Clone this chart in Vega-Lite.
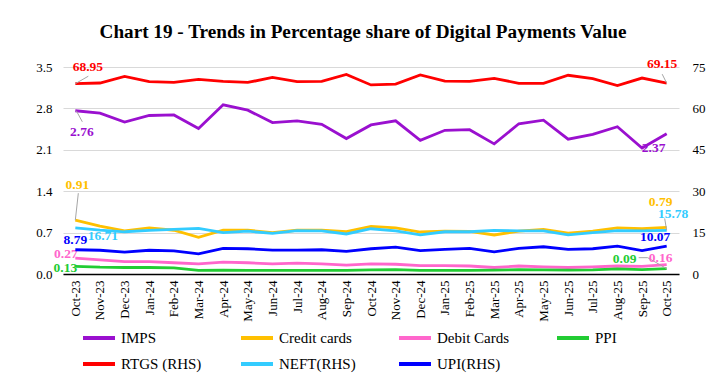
{
  "$schema": "https://vega.github.io/schema/vega-lite/v6.json",
  "width": 616,
  "height": 207,
  "autosize": "none",
  "padding": {"left": 63, "top": 67, "right": 45, "bottom": 101},
  "background": "white",
  "title": {"text": "Chart 19 - Trends in Percentage share of Digital Payments Value", "font": "Liberation Serif", "fontSize": 19.2, "fontWeight": "bold", "color": "black", "anchor": "middle", "offset": 15, "dx": -8},
  "config": {
    "view": {"stroke": null},
    "font": "Liberation Serif",
    "axis": {"labelFont": "Liberation Serif", "labelFontSize": 13, "labelColor": "black", "title": null, "ticks": false},
    "text": {"font": "Liberation Serif", "fontWeight": "bold", "fontSize": 13.5, "baseline": "middle", "align": "center"},
    "rule": {"color": "#a6a6a6", "strokeWidth": 1}
  },
  "datasets": {
    "pay": [
      {"m":"Oct-23","s":"IMPS","v":2.76},{"m":"Nov-23","s":"IMPS","v":2.72},{"m":"Dec-23","s":"IMPS","v":2.57},{"m":"Jan-24","s":"IMPS","v":2.68},{"m":"Feb-24","s":"IMPS","v":2.69},{"m":"Mar-24","s":"IMPS","v":2.46},{"m":"Apr-24","s":"IMPS","v":2.86},{"m":"May-24","s":"IMPS","v":2.77},{"m":"Jun-24","s":"IMPS","v":2.56},{"m":"Jul-24","s":"IMPS","v":2.59},{"m":"Aug-24","s":"IMPS","v":2.53},{"m":"Sep-24","s":"IMPS","v":2.29},{"m":"Oct-24","s":"IMPS","v":2.52},{"m":"Nov-24","s":"IMPS","v":2.59},{"m":"Dec-24","s":"IMPS","v":2.26},{"m":"Jan-25","s":"IMPS","v":2.43},{"m":"Feb-25","s":"IMPS","v":2.44},{"m":"Mar-25","s":"IMPS","v":2.20},{"m":"Apr-25","s":"IMPS","v":2.54},{"m":"May-25","s":"IMPS","v":2.60},{"m":"Jun-25","s":"IMPS","v":2.28},{"m":"Jul-25","s":"IMPS","v":2.36},{"m":"Aug-25","s":"IMPS","v":2.49},{"m":"Sep-25","s":"IMPS","v":2.13},{"m":"Oct-25","s":"IMPS","v":2.37},
      {"m":"Oct-23","s":"Credit cards","v":0.91},{"m":"Nov-23","s":"Credit cards","v":0.81},{"m":"Dec-23","s":"Credit cards","v":0.73},{"m":"Jan-24","s":"Credit cards","v":0.78},{"m":"Feb-24","s":"Credit cards","v":0.74},{"m":"Mar-24","s":"Credit cards","v":0.62},{"m":"Apr-24","s":"Credit cards","v":0.74},{"m":"May-24","s":"Credit cards","v":0.74},{"m":"Jun-24","s":"Credit cards","v":0.70},{"m":"Jul-24","s":"Credit cards","v":0.74},{"m":"Aug-24","s":"Credit cards","v":0.74},{"m":"Sep-24","s":"Credit cards","v":0.715},{"m":"Oct-24","s":"Credit cards","v":0.805},{"m":"Nov-24","s":"Credit cards","v":0.78},{"m":"Dec-24","s":"Credit cards","v":0.71},{"m":"Jan-25","s":"Credit cards","v":0.725},{"m":"Feb-25","s":"Credit cards","v":0.72},{"m":"Mar-25","s":"Credit cards","v":0.66},{"m":"Apr-25","s":"Credit cards","v":0.725},{"m":"May-25","s":"Credit cards","v":0.755},{"m":"Jun-25","s":"Credit cards","v":0.69},{"m":"Jul-25","s":"Credit cards","v":0.725},{"m":"Aug-25","s":"Credit cards","v":0.78},{"m":"Sep-25","s":"Credit cards","v":0.765},{"m":"Oct-25","s":"Credit cards","v":0.79},
      {"m":"Oct-23","s":"Debit Cards","v":0.27},{"m":"Nov-23","s":"Debit Cards","v":0.24},{"m":"Dec-23","s":"Debit Cards","v":0.21},{"m":"Jan-24","s":"Debit Cards","v":0.21},{"m":"Feb-24","s":"Debit Cards","v":0.19},{"m":"Mar-24","s":"Debit Cards","v":0.17},{"m":"Apr-24","s":"Debit Cards","v":0.20},{"m":"May-24","s":"Debit Cards","v":0.19},{"m":"Jun-24","s":"Debit Cards","v":0.17},{"m":"Jul-24","s":"Debit Cards","v":0.185},{"m":"Aug-24","s":"Debit Cards","v":0.17},{"m":"Sep-24","s":"Debit Cards","v":0.15},{"m":"Oct-24","s":"Debit Cards","v":0.17},{"m":"Nov-24","s":"Debit Cards","v":0.165},{"m":"Dec-24","s":"Debit Cards","v":0.14},{"m":"Jan-25","s":"Debit Cards","v":0.14},{"m":"Feb-25","s":"Debit Cards","v":0.135},{"m":"Mar-25","s":"Debit Cards","v":0.11},{"m":"Apr-25","s":"Debit Cards","v":0.135},{"m":"May-25","s":"Debit Cards","v":0.12},{"m":"Jun-25","s":"Debit Cards","v":0.11},{"m":"Jul-25","s":"Debit Cards","v":0.12},{"m":"Aug-25","s":"Debit Cards","v":0.135},{"m":"Sep-25","s":"Debit Cards","v":0.13},{"m":"Oct-25","s":"Debit Cards","v":0.16},
      {"m":"Oct-23","s":"PPI","v":0.13},{"m":"Nov-23","s":"PPI","v":0.115},{"m":"Dec-23","s":"PPI","v":0.11},{"m":"Jan-24","s":"PPI","v":0.11},{"m":"Feb-24","s":"PPI","v":0.105},{"m":"Mar-24","s":"PPI","v":0.06},{"m":"Apr-24","s":"PPI","v":0.065},{"m":"May-24","s":"PPI","v":0.06},{"m":"Jun-24","s":"PPI","v":0.06},{"m":"Jul-24","s":"PPI","v":0.06},{"m":"Aug-24","s":"PPI","v":0.06},{"m":"Sep-24","s":"PPI","v":0.06},{"m":"Oct-24","s":"PPI","v":0.07},{"m":"Nov-24","s":"PPI","v":0.075},{"m":"Dec-24","s":"PPI","v":0.06},{"m":"Jan-25","s":"PPI","v":0.06},{"m":"Feb-25","s":"PPI","v":0.06},{"m":"Mar-25","s":"PPI","v":0.065},{"m":"Apr-25","s":"PPI","v":0.075},{"m":"May-25","s":"PPI","v":0.07},{"m":"Jun-25","s":"PPI","v":0.065},{"m":"Jul-25","s":"PPI","v":0.07},{"m":"Aug-25","s":"PPI","v":0.085},{"m":"Sep-25","s":"PPI","v":0.075},{"m":"Oct-25","s":"PPI","v":0.09},
      {"m":"Oct-23","s":"RTGS (RHS)","v":68.95},{"m":"Nov-23","s":"RTGS (RHS)","v":69.2},{"m":"Dec-23","s":"RTGS (RHS)","v":71.6},{"m":"Jan-24","s":"RTGS (RHS)","v":69.7},{"m":"Feb-24","s":"RTGS (RHS)","v":69.4},{"m":"Mar-24","s":"RTGS (RHS)","v":70.5},{"m":"Apr-24","s":"RTGS (RHS)","v":69.8},{"m":"May-24","s":"RTGS (RHS)","v":69.4},{"m":"Jun-24","s":"RTGS (RHS)","v":71.2},{"m":"Jul-24","s":"RTGS (RHS)","v":69.7},{"m":"Aug-24","s":"RTGS (RHS)","v":69.8},{"m":"Sep-24","s":"RTGS (RHS)","v":72.3},{"m":"Oct-24","s":"RTGS (RHS)","v":68.5},{"m":"Nov-24","s":"RTGS (RHS)","v":68.8},{"m":"Dec-24","s":"RTGS (RHS)","v":72.1},{"m":"Jan-25","s":"RTGS (RHS)","v":69.9},{"m":"Feb-25","s":"RTGS (RHS)","v":69.8},{"m":"Mar-25","s":"RTGS (RHS)","v":70.9},{"m":"Apr-25","s":"RTGS (RHS)","v":69.1},{"m":"May-25","s":"RTGS (RHS)","v":69.1},{"m":"Jun-25","s":"RTGS (RHS)","v":72.0},{"m":"Jul-25","s":"RTGS (RHS)","v":70.8},{"m":"Aug-25","s":"RTGS (RHS)","v":68.3},{"m":"Sep-25","s":"RTGS (RHS)","v":71.0},{"m":"Oct-25","s":"RTGS (RHS)","v":69.15},
      {"m":"Oct-23","s":"NEFT(RHS)","v":16.71},{"m":"Nov-23","s":"NEFT(RHS)","v":15.9},{"m":"Dec-23","s":"NEFT(RHS)","v":15.3},{"m":"Jan-24","s":"NEFT(RHS)","v":15.8},{"m":"Feb-24","s":"NEFT(RHS)","v":16.2},{"m":"Mar-24","s":"NEFT(RHS)","v":16.5},{"m":"Apr-24","s":"NEFT(RHS)","v":15.0},{"m":"May-24","s":"NEFT(RHS)","v":15.5},{"m":"Jun-24","s":"NEFT(RHS)","v":14.7},{"m":"Jul-24","s":"NEFT(RHS)","v":15.7},{"m":"Aug-24","s":"NEFT(RHS)","v":15.6},{"m":"Sep-24","s":"NEFT(RHS)","v":14.5},{"m":"Oct-24","s":"NEFT(RHS)","v":16.4},{"m":"Nov-24","s":"NEFT(RHS)","v":15.6},{"m":"Dec-24","s":"NEFT(RHS)","v":14.2},{"m":"Jan-25","s":"NEFT(RHS)","v":15.3},{"m":"Feb-25","s":"NEFT(RHS)","v":15.3},{"m":"Mar-25","s":"NEFT(RHS)","v":15.8},{"m":"Apr-25","s":"NEFT(RHS)","v":15.6},{"m":"May-25","s":"NEFT(RHS)","v":15.6},{"m":"Jun-25","s":"NEFT(RHS)","v":14.2},{"m":"Jul-25","s":"NEFT(RHS)","v":15.0},{"m":"Aug-25","s":"NEFT(RHS)","v":15.7},{"m":"Sep-25","s":"NEFT(RHS)","v":15.6},{"m":"Oct-25","s":"NEFT(RHS)","v":15.78},
      {"m":"Oct-23","s":"UPI(RHS)","v":8.79},{"m":"Nov-23","s":"UPI(RHS)","v":8.6},{"m":"Dec-23","s":"UPI(RHS)","v":7.9},{"m":"Jan-24","s":"UPI(RHS)","v":8.6},{"m":"Feb-24","s":"UPI(RHS)","v":8.4},{"m":"Mar-24","s":"UPI(RHS)","v":7.3},{"m":"Apr-24","s":"UPI(RHS)","v":9.3},{"m":"May-24","s":"UPI(RHS)","v":9.15},{"m":"Jun-24","s":"UPI(RHS)","v":8.66},{"m":"Jul-24","s":"UPI(RHS)","v":8.66},{"m":"Aug-24","s":"UPI(RHS)","v":8.78},{"m":"Sep-24","s":"UPI(RHS)","v":8.17},{"m":"Oct-24","s":"UPI(RHS)","v":9.15},{"m":"Nov-24","s":"UPI(RHS)","v":9.75},{"m":"Dec-24","s":"UPI(RHS)","v":8.5},{"m":"Jan-25","s":"UPI(RHS)","v":8.9},{"m":"Feb-25","s":"UPI(RHS)","v":9.3},{"m":"Mar-25","s":"UPI(RHS)","v":8.05},{"m":"Apr-25","s":"UPI(RHS)","v":9.3},{"m":"May-25","s":"UPI(RHS)","v":9.87},{"m":"Jun-25","s":"UPI(RHS)","v":8.9},{"m":"Jul-25","s":"UPI(RHS)","v":9.15},{"m":"Aug-25","s":"UPI(RHS)","v":10.1},{"m":"Sep-25","s":"UPI(RHS)","v":8.5},{"m":"Oct-25","s":"UPI(RHS)","v":10.07}
    ]
  },
  "data": {"name": "pay"},
  "encoding": {
    "x": {"field": "m", "type": "ordinal", "sort": null,
      "scale": {"type": "point", "padding": 0.5, "domain": ["Oct-23","Nov-23","Dec-23","Jan-24","Feb-24","Mar-24","Apr-24","May-24","Jun-24","Jul-24","Aug-24","Sep-24","Oct-24","Nov-24","Dec-24","Jan-25","Feb-25","Mar-25","Apr-25","May-25","Jun-25","Jul-25","Aug-25","Sep-25","Oct-25"]},
      "axis": {"labelAngle": -90, "domainColor": "black", "domainWidth": 1.5, "labelPadding": 6, "grid": false}},
    "color": {"field": "s", "type": "nominal",
      "scale": {"domain": ["IMPS","Credit cards","Debit Cards","PPI","RTGS (RHS)","NEFT(RHS)","UPI(RHS)"], "range": ["#9a10cf","#ffc000","#ff66cc","#22cc33","#ff0000","#33ccff","#0000ff"]},
      "legend": {"title": null, "orient": "none", "direction": "horizontal", "legendX": 18, "legendY": 253, "columns": 4, "gridAlign": "all", "symbolType": "stroke", "symbolSize": 1024, "symbolStrokeWidth": 4, "labelFont": "Liberation Serif", "labelFontSize": 15, "labelColor": "black", "columnPadding": 31, "rowPadding": -19, "labelOffset": 4}}
  },
  "layer": [
    {
      "transform": [{"filter": {"field": "s", "oneOf": ["IMPS","Credit cards","Debit Cards","PPI"]}}],
      "encoding": {"y": {"field": "v", "type": "quantitative", "scale": {"domain": [0, 3.5], "nice": false},
        "axis": {"orient": "left", "values": [0, 0.7, 1.4, 2.1, 2.8, 3.5], "format": ".1f", "domain": false, "grid": true, "gridColor": "#d9d9d9", "labelPadding": 11}}},
      "layer": [
        {"mark": {"type": "line", "strokeWidth": 2.8}},
        {"transform": [{"filter": "datum.s === 'IMPS' && datum.m === 'Oct-23'"}], "mark": {"type": "rule", "xOffset": 1, "x2Offset": 7, "y2Offset": 11}, "encoding": {"x2": {"field": "m"}, "y2": {"field": "v"}, "color": {"value": "#a6a6a6"}}},
        {"transform": [{"filter": "datum.s === 'Credit cards' && datum.m === 'Oct-23'"}], "mark": {"type": "rule", "x2Offset": 3, "y2Offset": -27}, "encoding": {"x2": {"field": "m"}, "y2": {"field": "v"}, "color": {"value": "#a6a6a6"}}},
        {"transform": [{"filter": "datum.s === 'PPI' && datum.m === 'Oct-25'"}], "mark": {"type": "rule", "x2Offset": -19, "y2Offset": -11}, "encoding": {"x2": {"field": "m"}, "y2": {"field": "v"}, "color": {"value": "#a6a6a6"}}},
        {"transform": [{"filter": "datum.s === 'PPI' && datum.m === 'Oct-25'"}], "mark": {"type": "rule", "xOffset": -19, "yOffset": -11, "x2Offset": -28, "y2Offset": -11}, "encoding": {"x2": {"field": "m"}, "y2": {"field": "v"}, "color": {"value": "#a6a6a6"}}},
        {"transform": [{"filter": "datum.s === 'IMPS' && datum.m === 'Oct-23'"}], "mark": {"type": "text", "dx": 6.5, "dy": 21}, "encoding": {"text": {"field": "v", "format": ".2f"}}},
        {"transform": [{"filter": "datum.s === 'IMPS' && datum.m === 'Oct-25'"}], "mark": {"type": "text", "dx": -13, "dy": 14.5}, "encoding": {"text": {"field": "v", "format": ".2f"}}},
        {"transform": [{"filter": "datum.s === 'Credit cards' && datum.m === 'Oct-23'"}], "mark": {"type": "text", "dx": 2, "dy": -35.5}, "encoding": {"text": {"field": "v", "format": ".2f"}}},
        {"transform": [{"filter": "datum.s === 'Credit cards' && datum.m === 'Oct-25'"}], "mark": {"type": "text", "dx": -6, "dy": -25}, "encoding": {"text": {"field": "v", "format": ".2f"}}},
        {"transform": [{"filter": "datum.s === 'Debit Cards' && datum.m === 'Oct-23'"}], "mark": {"type": "text", "dx": -9.5, "dy": -4}, "encoding": {"text": {"field": "v", "format": ".2f"}}},
        {"transform": [{"filter": "datum.s === 'Debit Cards' && datum.m === 'Oct-25'"}], "mark": {"type": "text", "dx": -6, "dy": -7}, "encoding": {"text": {"field": "v", "format": ".2f"}}},
        {"transform": [{"filter": "datum.s === 'PPI' && datum.m === 'Oct-23'"}], "mark": {"type": "text", "dx": -10, "dy": 2}, "encoding": {"text": {"field": "v", "format": ".2f"}}},
        {"transform": [{"filter": "datum.s === 'PPI' && datum.m === 'Oct-25'"}], "mark": {"type": "text", "dx": -42, "dy": -9.5}, "encoding": {"text": {"field": "v", "format": ".2f"}}}
      ]
    },
    {
      "transform": [{"filter": {"field": "s", "oneOf": ["RTGS (RHS)","NEFT(RHS)","UPI(RHS)"]}}],
      "encoding": {"y": {"field": "v", "type": "quantitative", "scale": {"domain": [0, 75], "nice": false},
        "axis": {"orient": "right", "values": [0, 15, 30, 45, 60, 75], "domain": false, "grid": false, "labelPadding": 13}}},
      "layer": [
        {"mark": {"type": "line", "strokeWidth": 2.8}},
        {"transform": [{"filter": "datum.s === 'RTGS (RHS)' && datum.m === 'Oct-23'"}], "mark": {"type": "rule", "x2Offset": 13, "y2Offset": -7.5}, "encoding": {"x2": {"field": "m"}, "y2": {"field": "v"}, "color": {"value": "#a6a6a6"}}},
        {"transform": [{"filter": "datum.s === 'RTGS (RHS)' && datum.m === 'Oct-25'"}], "mark": {"type": "rule", "x2Offset": -4.5, "y2Offset": -9}, "encoding": {"x2": {"field": "m"}, "y2": {"field": "v"}, "color": {"value": "#a6a6a6"}}},
        {"transform": [{"filter": "datum.s === 'NEFT(RHS)' && datum.m === 'Oct-25'"}], "mark": {"type": "rule", "x2Offset": -2, "y2Offset": -12}, "encoding": {"x2": {"field": "m"}, "y2": {"field": "v"}, "color": {"value": "#a6a6a6"}}},
        {"transform": [{"filter": "datum.s === 'RTGS (RHS)' && datum.m === 'Oct-23'"}], "mark": {"type": "text", "dx": 12.5, "dy": -17}, "encoding": {"text": {"field": "v", "format": ".2f"}}},
        {"transform": [{"filter": "datum.s === 'RTGS (RHS)' && datum.m === 'Oct-25'"}], "mark": {"type": "text", "dx": -4.5, "dy": -18.7}, "encoding": {"text": {"field": "v", "format": ".2f"}}},
        {"transform": [{"filter": "datum.s === 'NEFT(RHS)' && datum.m === 'Oct-23'"}], "mark": {"type": "text", "dx": 27.5, "dy": 8.5}, "encoding": {"text": {"field": "v", "format": ".2f"}}},
        {"transform": [{"filter": "datum.s === 'NEFT(RHS)' && datum.m === 'Oct-25'"}], "mark": {"type": "text", "dx": 6.5, "dy": -16.5}, "encoding": {"text": {"field": "v", "format": ".2f"}}},
        {"transform": [{"filter": "datum.s === 'UPI(RHS)' && datum.m === 'Oct-23'"}], "mark": {"type": "text", "dx": 0, "dy": -10}, "encoding": {"text": {"field": "v", "format": ".2f"}}},
        {"transform": [{"filter": "datum.s === 'UPI(RHS)' && datum.m === 'Oct-25'"}], "mark": {"type": "text", "dx": -11.5, "dy": -9.3}, "encoding": {"text": {"field": "v", "format": ".2f"}}}
      ]
    }
  ],
  "resolve": {"scale": {"y": "independent"}}
}
